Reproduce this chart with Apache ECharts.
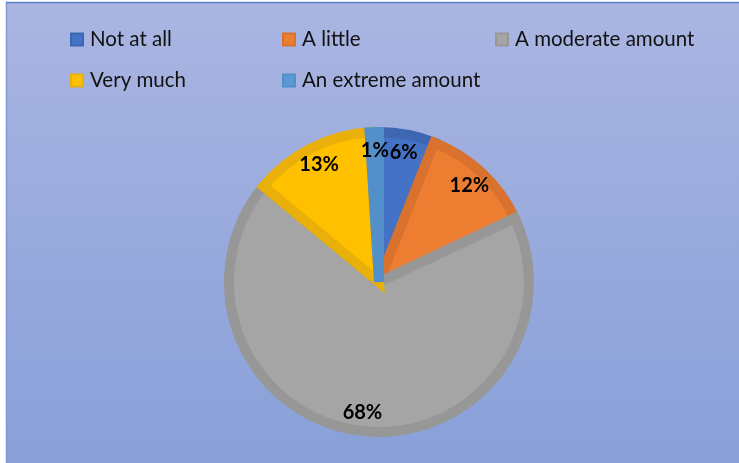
<!DOCTYPE html>
<html>
<head>
<meta charset="utf-8">
<script src="https://cdn.jsdelivr.net/npm/echarts@6/dist/echarts.min.js"></script>
<style>
  html, body { margin: 0; padding: 0; background: #ffffff; }
  #chart { width: 739px; height: 463px; }
</style>
</head>
<body>
<div id="chart"></div>
<script>
// Survey responses, share of respondents (%)
const categories = ['Not at all', 'A little', 'A moderate amount', 'Very much', 'An extreme amount'];
const shares = [6, 12, 68, 13, 1];
const fillColors = ['#4472C4', '#ED7D31', '#A5A5A5', '#FFC000', '#5B9BD5'];
const edgeColors = ['#3D67B3', '#D9722F', '#979797', '#E9B00A', '#5390C9'];

const chart = echarts.init(document.getElementById('chart'), null, { renderer: 'canvas' });

const pieData = categories.map((name, i) => ({
  name: name,
  value: shares[i],
  itemStyle: { color: fillColors[i], borderColor: edgeColors[i] }
}));

// Legend laid out as a 3-column grid
const legendSlots = [
  { left: 70, top: 29 }, { left: 282, top: 29 }, { left: 495, top: 29 },
  { left: 70, top: 70 }, { left: 282, top: 70 }
];
const legends = categories.map((name, i) => ({
  data: [name],
  left: legendSlots[i].left,
  top: legendSlots[i].top,
  icon: 'rect',
  itemWidth: 12,
  itemHeight: 12,
  itemGap: 0,
  padding: 0,
  selectedMode: false,
  textStyle: { fontFamily: 'Lato', fontSize: 20.5, color: '#111111', padding: [0, 0, 0, 2] }
}));

chart.setOption({
  backgroundColor: '#ffffff',
  animation: false,
  graphic: [
    {
      type: 'rect', silent: true, z: -10,
      shape: { x: 7, y: 3, width: 732, height: 460 },
      style: {
        fill: new echarts.graphic.LinearGradient(0, 0, 0, 1, [
          { offset: 0, color: '#AAB5E1' },
          { offset: 1, color: '#88A0D9' }
        ])
      }
    },
    {
      type: 'line', silent: true, z: -9,
      shape: { x1: 6.5, y1: 2, x2: 6.5, y2: 463 },
      style: { stroke: '#8497D3', lineWidth: 1.5 }
    },
    {
      type: 'line', silent: true, z: -9,
      shape: { x1: 6, y1: 2.5, x2: 739, y2: 2.5 },
      style: { stroke: '#5B7FCF', lineWidth: 1.5 }
    }
  ],
  legend: legends,
  series: [
    {
      type: 'pie',
      center: [379, 282],
      radius: [0, 150],
      startAngle: 90,
      clockwise: true,
      silent: true,
      label: { show: false },
      labelLine: { show: false },
      itemStyle: { borderWidth: 10, borderJoin: 'miter' },
      data: pieData
    },
    {
      // transparent ring that only carries the percentage labels
      type: 'pie',
      center: [379, 282],
      radius: [107, 151],
      startAngle: 90,
      clockwise: true,
      silent: true,
      legendHoverLink: false,
      itemStyle: { color: 'rgba(0,0,0,0)', borderWidth: 0 },
      label: {
        show: true,
        position: 'inside',
        formatter: '{c}%',
        fontFamily: 'Lato',
        fontWeight: 'bold',
        fontSize: 20,
        color: '#000000'
      },
      labelLine: { show: false },
      data: categories.map((name, i) => ({ name: name + ' ', value: shares[i] }))
    }
  ]
});
</script>
</body>
</html>
